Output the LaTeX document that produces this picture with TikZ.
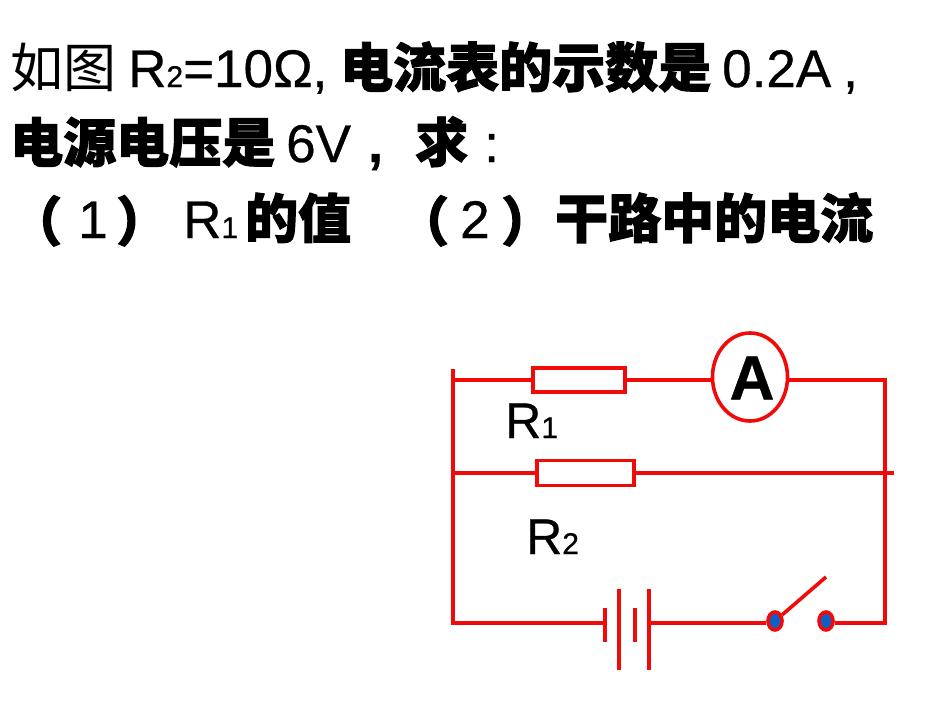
\documentclass[tikz,border=0pt]{standalone}
\usepackage{fontspec}
\setmainfont[FakeBold=0.6]{Liberation Sans}
\newfontfamily\cjk{Noto Sans CJK SC}
\newfontfamily\cjkbold[BoldFeatures={FakeBold=1.8}]{Noto Sans CJK SC}
\usetikzlibrary{shapes, positioning}
\definecolor{wirered}{RGB}{240, 10, 10}
\definecolor{termblue}{RGB}{15, 95, 200}
\newcommand{\hei}[1]{{\cjkbold\bfseries #1}}
\newcommand{\subnum}[1]{{\fontsize{30}{30}\selectfont #1}}

\begin{document}
\begin{tikzpicture}[x=1pt, y=-1pt,
  wire/.style={draw=wirered, line width=3.6pt},
  txt/.style={anchor=base west, inner sep=0pt, font=\fontsize{53}{53}\selectfont},
  lbl/.style={anchor=base west, inner sep=0pt, font=\fontsize{50}{50}\selectfont},
  res/.style={draw=wirered, line width=3.6pt, fill=white, inner sep=0pt, minimum height=#1},
  plate/.style={fill=wirered, inner sep=0pt, minimum width=3.6pt, minimum height=#1},
  term/.style={ellipse, draw=wirered, fill=termblue, line width=3.6pt, inner sep=0pt, minimum width=14pt, minimum height=18pt},
]
  \useasboundingbox (0,0) rectangle (950,713);
  % question text
  \node[txt] (q1a) at (10,87) {\cjk 如图};
  \node[txt] (q1b) at (128,87) {R\subnum{2}=10Ω,};
  \node[txt] (q1c) at (340,87) {\hei{电流表的示数是}};
  \node[txt] (q1d) at (722,87) {0.2A};
  \node[txt] (q1e) at (843,87) {,};
  \node[txt] (q2a) at (10,162) {\hei{电源电压是}};
  \node[txt] (q2b) at (286,162) {6V};
  \node[txt] (q2c) at (368,162) {\textbf{,}};
  \node[txt] (q2d) at (415,162) {\hei{求}};
  \node[txt] (q2e) at (484,162) {:};
  \node[txt] (q3a) at (9,241) {\hei{（}};
  \node[txt] (q3b) at (78,238) {1};
  \node[txt] (q3c) at (116,241) {\hei{）}};
  \node[txt] (q3d) at (183,238) {R\subnum{1}};
  \node[txt] (q3e) at (245,238) {\hei{的值}};
  \node[txt] (q3f) at (396,241) {\hei{（}};
  \node[txt] (q3g) at (460,238) {2};
  \node[txt] (q3h) at (501,241) {\hei{）}};
  \node[txt] (q3i) at (555,238) {\hei{干路中的电流}};
  % corners
  \coordinate (tl) at (453,380);
  \coordinate (tr) at (885,380);
  \coordinate (ml) at (453,473);
  \coordinate (mend) at (894,473);
  \coordinate (bl) at (453,623);
  \coordinate (br) at (885,623);
  \coordinate (ltop) at (453,369);
  % parts
  \node[res=24pt, minimum width=92pt] (r1) at (579,380) {};
  \node[res=25pt, minimum width=97pt] (r2) at (585.5,473) {};
  \node[ellipse, wire, fill=white, inner sep=0pt, minimum width=75pt, minimum height=88pt] (amm) at (750,377) {};
  \node[inner sep=0pt, font=\fontsize{62}{62}\selectfont\bfseries] (ammA) at (752,378) {A};
  \node[plate=34pt] (b1) at (605,625) {};
  \node[plate=81pt] (b2) at (619,629) {};
  \node[plate=34pt] (b3) at (635,625) {};
  \node[plate=81pt] (b4) at (649,629) {};
  \node[term] (s1) at (775,621) {};
  \node[term] (s2) at (826,621) {};
  \coordinate (stip) at (826,577);
  \node[lbl] (lr1) at (505,438) {R\subnum{1}};
  \node[lbl] (lr2) at (526,554) {R\subnum{2}};
  % wires
  \draw[wire] (ltop) -- (bl) -- (b1.center |- bl);
  \draw[wire] (tl) -- (r1);
  \draw[wire] (r1) -- (amm.west |- r1);
  \draw[wire] (amm.east |- tr) -- (tr) -- (br) -- (s2.east |- br);
  \draw[wire] (ml) -- (r2);
  \draw[wire] (r2) -- (mend);
  \draw[wire] (b4.center |- br) -- (s1.west |- br);
  \draw[wire] (s1) -- (stip);
\end{tikzpicture}
\end{document}
